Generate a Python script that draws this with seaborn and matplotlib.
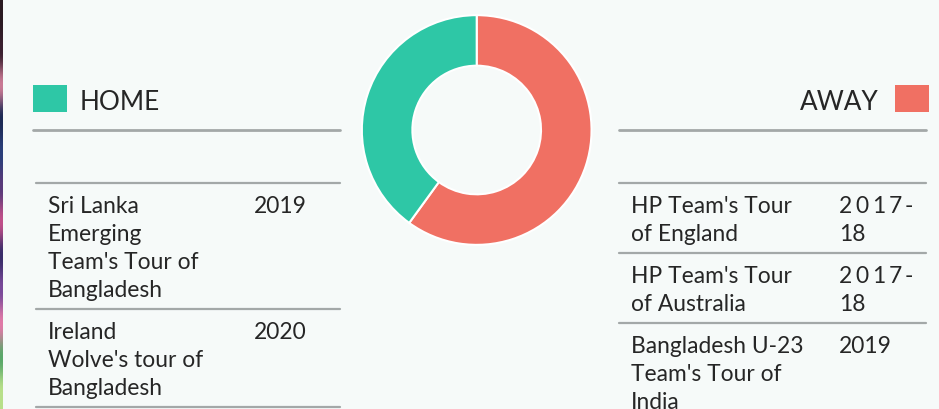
import matplotlib.pyplot as plt
import seaborn as sns
import numpy as np
from matplotlib.colors import to_rgb

# Data
segments = ["AWAY", "HOME"]
tour_counts = [3, 2]
seg_colors = ["#f07063", "#2ec7a6"]

home_tours = ["Sri Lanka\nEmerging\nTeam's Tour of\nBangladesh",
              "Ireland\nWolve's tour of\nBangladesh"]
home_years = ["2019", "2020"]

away_tours = ["HP Team's Tour\nof England",
              "HP Team's Tour\nof Australia",
              "Bangladesh U-23\nTeam's Tour of\nIndia"]
away_years = ["2017-\n18", "2017-\n18", "2019"]

bg = "#f6faf9"
ink = "#262626"
rule = "#a3a8a8"

sns.set_style("white")
plt.rcParams['font.family'] = ['Lato', 'DejaVu Sans']

fig = plt.figure(figsize=(9.39, 4.09), dpi=100)
fig.patch.set_facecolor(bg)

# full-page axes in pixel coordinates
page = fig.add_axes([0, 0, 1, 1])
page.set_xlim(0, 939)
page.set_ylim(409, 0)
page.axis("off")
page.set_facecolor(bg)

# thin photo strip on the left edge
strip = ["#2a1a22", "#3b2030", "#c97a95", "#1d2a55", "#2b3f7a", "#5a3a7a",
         "#c0508a", "#3a2d6a", "#7a4a9a", "#e07aa8", "#5aa86a", "#b8e08a"]
page.imshow(np.array([to_rgb(c) for c in strip])[:, None, :],
            extent=(0, 3, 409, 0), aspect="auto", zorder=1)

fs_head = 18.8
fs_body = 16.4
lh = 28
pad = 14
wt = "normal"


def put_line(x, y, s, width=None):
    # justified line: spread characters over the given width
    if width is None:
        page.text(x, y, s, fontsize=fs_body, color=ink, fontweight=wt, va="baseline")
        return
    step = width / max(len(s) - 1, 1)
    for k, ch in enumerate(s):
        page.text(x + k * step, y, ch, fontsize=fs_body, color=ink,
                  fontweight=wt, va="baseline")


def draw_rows(x_text, x_year, x0, x1, top, tours, years):
    page.plot([x0, x1], [top, top], color=rule, lw=1.6)
    y = top
    for t, yr in zip(tours, years):
        t_lines = t.split("\n")
        y_lines = yr.split("\n")
        for i, ln in enumerate(t_lines):
            put_line(x_text, y + 30.3 + i * lh, ln)
        for i, ln in enumerate(y_lines):
            just = 66 if i < len(y_lines) - 1 else None
            put_line(x_year, y + 30.3 + i * lh, ln, just)
        y += max(len(t_lines), len(y_lines)) * lh + pad
        page.plot([x0, x1], [y, y], color=rule, lw=1.6)


# HOME header
page.add_patch(plt.Rectangle((33, 85), 34, 27, color=seg_colors[1], lw=0))
page.text(80, 110, "HOME", fontsize=fs_head, color=ink, fontweight=wt,
          va="baseline", ha="left")
page.plot([33, 340], [130, 130], color=rule, lw=2)

# AWAY header
page.add_patch(plt.Rectangle((895, 85), 34, 27, color=seg_colors[0], lw=0))
page.text(879, 110, "AWAY", fontsize=fs_head, color=ink, fontweight=wt,
          va="baseline", ha="right")
page.plot([619, 926], [130, 130], color=rule, lw=2)

# tables
draw_rows(48, 254, 36, 340, 183, home_tours, home_years)
draw_rows(631, 839, 619, 926, 183, away_tours, away_years)

# donut
cx, cy, r = 476.7, 130, 116
donut = fig.add_axes([(cx - r) / 939, (409 - cy - r) / 409, 2 * r / 939, 2 * r / 409])
donut.pie(tour_counts, colors=seg_colors, startangle=90, counterclock=False,
          wedgeprops=dict(width=0.44, edgecolor="white", linewidth=1.5))
donut.set_xlim(-1.01, 1.01)
donut.set_ylim(-1.01, 1.01)
donut.set_aspect("auto")
donut.axis("off")

fig.savefig("out.png", dpi=100, facecolor=bg)
